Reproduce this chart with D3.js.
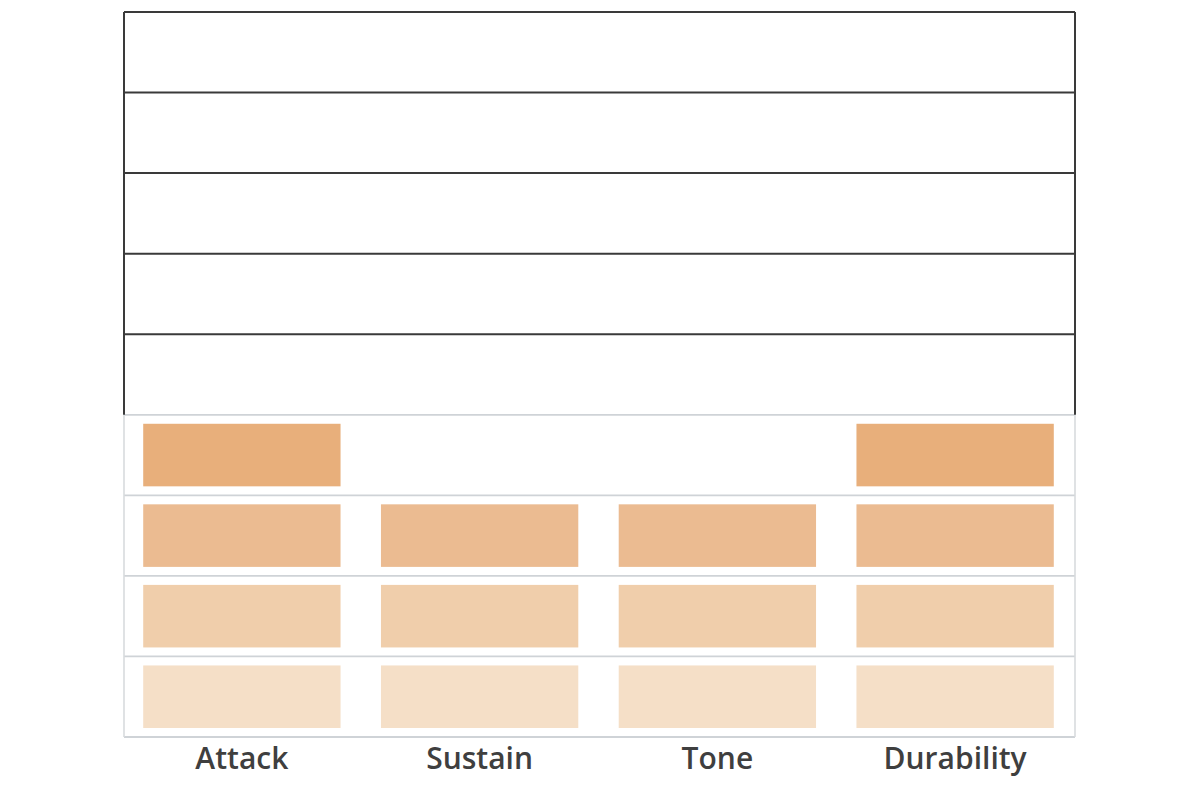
<!DOCTYPE html>
<html><head><meta charset="utf-8">
<script src="https://cdn.jsdelivr.net/npm/d3@7"></script>
<style>body{margin:0;background:#fff;}</style>
</head><body>
<svg id="c" width="1200" height="800"></svg>
<script>
const categories = ["Attack", "Sustain", "Tone", "Durability"];
const ratings = [4, 3, 3, 4];
const maxLevel = 9;
const levelColors = ["#f5dfc7", "#f0ceab", "#ebbb91", "#e8af7b"];

const svg = d3.select("#c");
const L = 124, R = 1075, T = 12, B = 737;
const x = d3.scaleBand().domain(categories).range([L, R]).paddingInner(0.17).paddingOuter(0.085);
const y = d3.scaleLinear().domain([0, maxLevel]).range([B, T]);

// gridlines
const ticks = d3.range(0, maxLevel + 1);
svg.append("g").selectAll("line").data(ticks).join("line")
  .attr("x1", L).attr("x2", R)
  .attr("y1", d => y(d)).attr("y2", d => y(d))
  .attr("stroke", d => d <= 4 ? "#cfd3d7" : "#3a3a3a")
  .attr("stroke-width", d => d <= 4 ? 1.8 : 2);

// side borders
[L, R].forEach(xx => {
  svg.append("line").attr("x1", xx).attr("x2", xx).attr("y1", y(4)).attr("y2", y(0))
    .attr("stroke", "#d8dbde").attr("stroke-width", 1.6);
  svg.append("line").attr("x1", xx).attr("x2", xx).attr("y1", y(maxLevel)).attr("y2", y(4))
    .attr("stroke", "#3a3a3a").attr("stroke-width", 2);
});

// cells
const cells = [];
categories.forEach((c, i) => {
  for (let lv = 1; lv <= ratings[i]; lv++) cells.push({c, lv});
});
const rowH = y(0) - y(1);
const padY = 9;
svg.append("g").selectAll("rect").data(cells).join("rect")
  .attr("x", d => x(d.c) - 1)
  .attr("width", x.bandwidth())
  .attr("y", d => y(d.lv) + padY)
  .attr("height", rowH - 2 * padY)
  .attr("fill", d => levelColors[d.lv - 1]);

// labels
svg.append("g").selectAll("text").data(categories).join("text")
  .attr("x", d => x(d) + x.bandwidth() / 2 - 1)
  .attr("y", 769)
  .attr("text-anchor", "middle")
  .attr("font-family", "Open Sans, sans-serif")
  .attr("font-weight", 600)
  .attr("font-size", 30)
  .attr("fill", "#3f3f3f")
  .text(d => d);
</script>
</body></html>
